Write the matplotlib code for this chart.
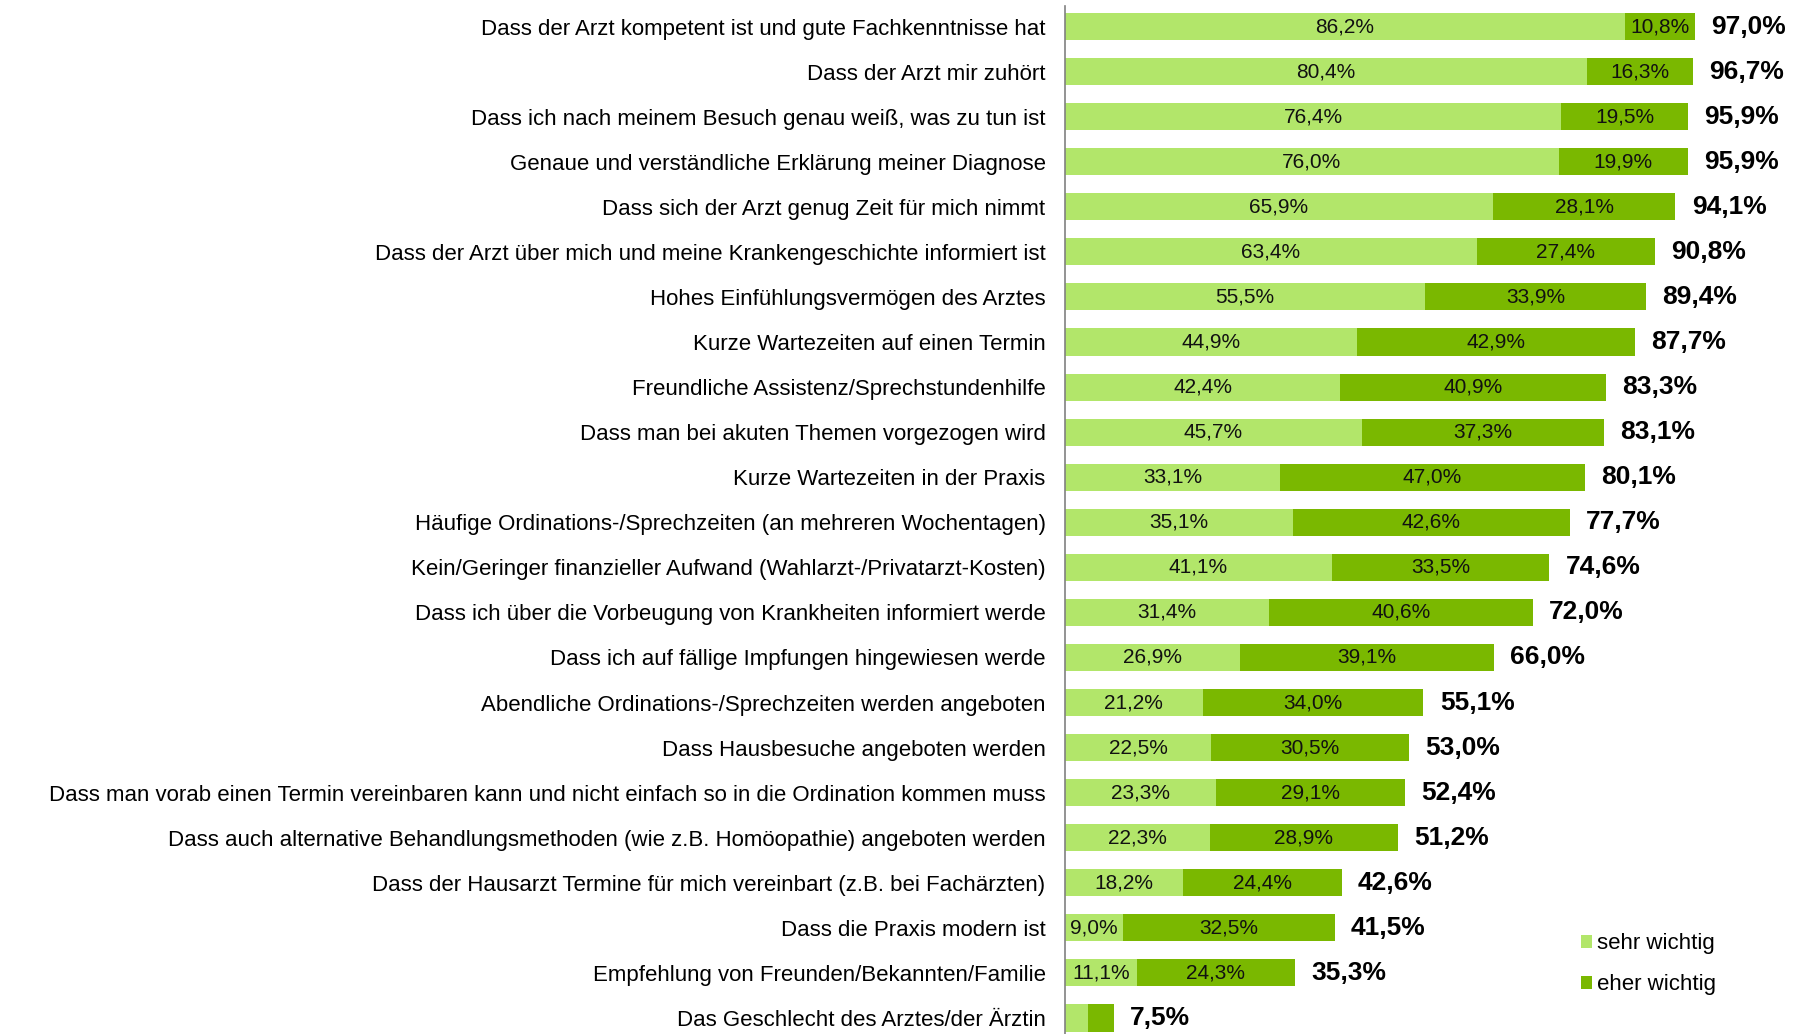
import numpy as np
import matplotlib.pyplot as plt

categories = [
    "Dass der Arzt kompetent ist und gute Fachkenntnisse hat",
    "Dass der Arzt mir zuhört",
    "Dass ich nach meinem Besuch genau weiß, was zu tun ist",
    "Genaue und verständliche Erklärung meiner Diagnose",
    "Dass sich der Arzt genug Zeit für mich nimmt",
    "Dass der Arzt über mich und meine Krankengeschichte informiert ist",
    "Hohes Einfühlungsvermögen des Arztes",
    "Kurze Wartezeiten auf einen Termin",
    "Freundliche Assistenz/Sprechstundenhilfe",
    "Dass man bei akuten Themen vorgezogen wird",
    "Kurze Wartezeiten in der Praxis",
    "Häufige Ordinations-/Sprechzeiten (an mehreren Wochentagen)",
    "Kein/Geringer finanzieller Aufwand (Wahlarzt-/Privatarzt-Kosten)",
    "Dass ich über die Vorbeugung von Krankheiten informiert werde",
    "Dass ich auf fällige Impfungen hingewiesen werde",
    "Abendliche Ordinations-/Sprechzeiten werden angeboten",
    "Dass Hausbesuche angeboten werden",
    "Dass man vorab einen Termin vereinbaren kann und nicht einfach so in die Ordination kommen muss",
    "Dass auch alternative Behandlungsmethoden (wie z.B. Homöopathie) angeboten werden",
    "Dass der Hausarzt Termine für mich vereinbart (z.B. bei Fachärzten)",
    "Dass die Praxis modern ist",
    "Empfehlung von Freunden/Bekannten/Familie",
    "Das Geschlecht des Arztes/der Ärztin",
]
sehr = [86.2, 80.4, 76.4, 76.0, 65.9, 63.4, 55.5, 44.9, 42.4, 45.7, 33.1, 35.1,
        41.1, 31.4, 26.9, 21.2, 22.5, 23.3, 22.3, 18.2, 9.0, 11.1, 3.6]
eher = [10.8, 16.3, 19.5, 19.9, 28.1, 27.4, 33.9, 42.9, 40.9, 37.3, 47.0, 42.6,
        33.5, 40.6, 39.1, 34.0, 30.5, 29.1, 28.9, 24.4, 32.5, 24.3, 3.9]
totals = [97.0, 96.7, 95.9, 95.9, 94.1, 90.8, 89.4, 87.7, 83.3, 83.1, 80.1, 77.7,
          74.6, 72.0, 66.0, 55.1, 53.0, 52.4, 51.2, 42.6, 41.5, 35.3, 7.5]
# the last bar has no inner labels
show_inner = [True] * 22 + [False]

light = "#b2e66a"
dark = "#7ab800"
plt.rcParams["font.family"] = ["Liberation Sans", "DejaVu Sans"]

def fmt(v):
    return f"{v:.1f}%".replace(".", ",")

fig = plt.figure(figsize=(18.06, 10.34), dpi=100)
ax = fig.add_axes([1065 / 1806, 0, 1 - 1065 / 1806, 1 - 6 / 1034])

y = np.arange(len(categories))
ax.barh(y, sehr, height=0.6, color=light, label="sehr wichtig")
ax.barh(y, eher, left=sehr, height=0.6, color=dark, label="eher wichtig")

for i in range(len(categories)):
    if show_inner[i]:
        ax.text(sehr[i] / 2, y[i], fmt(sehr[i]), ha="center", va="center",
                fontsize=15, color="#111111")
        ax.text(sehr[i] + eher[i] / 2, y[i], fmt(eher[i]), ha="center", va="center",
                fontsize=15, color="#111111")
    ax.text(sehr[i] + eher[i] + 2.5, y[i], fmt(totals[i]), ha="left", va="center",
            fontsize=19, fontweight="bold", color="#000000")

ax.set_xlim(0, 114.1)
ax.set_ylim(22.355, -0.455)
ax.set_yticks(y)
ax.set_yticklabels(categories, fontsize=16)
ax.tick_params(axis="y", length=0, pad=14)
ax.set_xticks([])
for s in ["top", "right", "bottom"]:
    ax.spines[s].set_visible(False)
ax.spines["left"].set_color("#808080")
ax.spines["left"].set_linewidth(1.2)

ax.legend(loc="upper left", bbox_to_anchor=(0.696, 0.098), frameon=False,
          fontsize=16, handlelength=0.5, handleheight=0.5, handletextpad=0.25,
          labelspacing=0.9, borderaxespad=0, borderpad=0)

fig.savefig("out.png", dpi=100)
